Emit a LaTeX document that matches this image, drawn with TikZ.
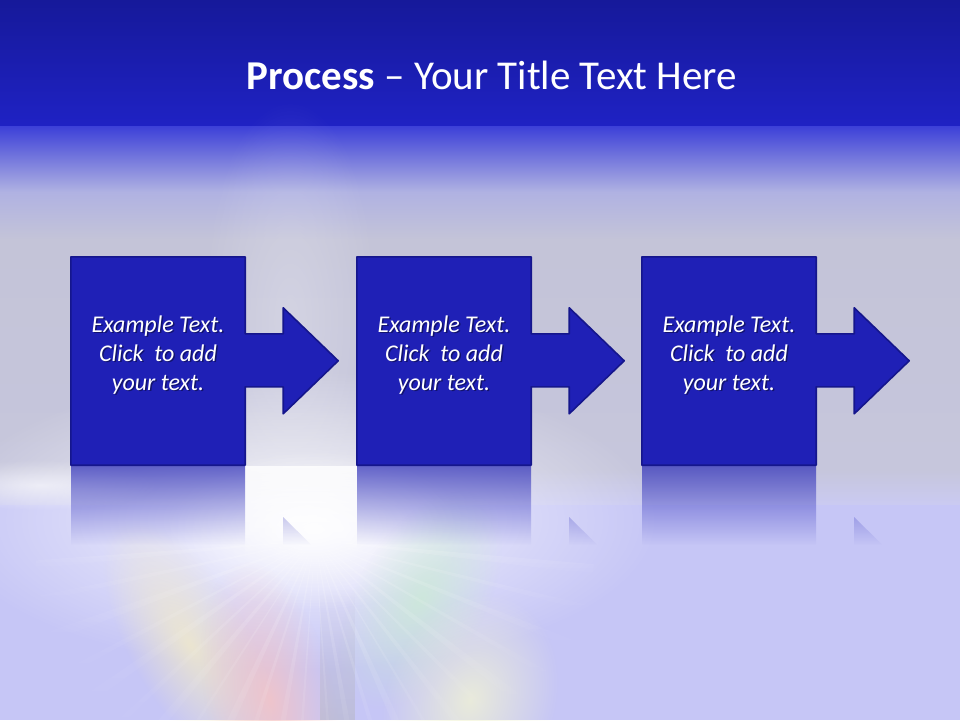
\documentclass[tikz,border=0pt]{standalone}
\usepackage{fontspec}
\setmainfont{Carlito}
\usetikzlibrary{fadings}
\definecolor{topA}{HTML}{16199A}
\definecolor{topB}{HTML}{1F22C4}
\definecolor{bandC}{HTML}{3C40D8}
\definecolor{bandD}{HTML}{B0B2E2}
\definecolor{grayl}{HTML}{C4C4D8}
\definecolor{grayb}{HTML}{C6C6DC}
\definecolor{lavA}{HTML}{CACAF2}
\definecolor{lavB}{HTML}{C6C6F6}
\definecolor{boxblue}{HTML}{1F20B6}
\definecolor{boxedge}{HTML}{15168C}
\definecolor{raypink}{HTML}{F8C4C2}
\definecolor{rayyel}{HTML}{F6EEC4}
\definecolor{raygreen}{HTML}{CAECD2}
\definecolor{raycream}{HTML}{F2F4D4}
\definecolor{raygray}{HTML}{B8B8C8}
\tikzfading[name=glow, inner color=transparent!0, outer color=transparent!100]
\tikzfading[name=fadedown, top color=transparent!35, bottom color=transparent!100]
\tikzfading[name=raydown, top color=transparent!10, bottom color=transparent!100]
\tikzfading[name=rayin, top color=transparent!100, bottom color=transparent!0]
\tikzset{
  stepshape/.style={fill=boxblue, draw=boxedge, line width=1.6pt, line join=round},
  steptext/.style={text=white, font=\fontsize{24}{29}\selectfont\itshape, align=center},
  stepshadow/.style={text=black, opacity=0.4, font=\fontsize{24}{29}\selectfont\itshape, align=center},
  stepanchor/.style={minimum width=174pt, minimum height=208pt, inner sep=0pt},
  titletext/.style={text=white, font=\fontsize{41}{46}\selectfont},
}
\begin{document}
\begin{tikzpicture}[x=1pt,y=-1pt]
\useasboundingbox (0,0) rectangle (960,720);
% ---------- background
\shade[top color=topA, bottom color=topB] (0,0) rectangle (960,126);
\shade[top color=bandC, bottom color=bandD] (0,126) rectangle (960,192);
\shade[top color=bandD, bottom color=grayl] (0,192) rectangle (960,240);
\shade[top color=grayl, bottom color=grayb] (0,240) rectangle (960,470);
\shade[top color=grayb, bottom color=lavA] (0,470) rectangle (960,505);
\fill[lavB] (0,505) rectangle (960,720);
% soft light above the centre
\fill[white, opacity=0.25, path fading=glow] (290,320) ellipse (90 and 220);
% broad white haze round the burst
\fill[white, opacity=0.85, path fading=glow] (300,520) ellipse (360 and 150);
\fill[white, opacity=0.9, path fading=glow] (315,530) ellipse (150 and 80);
\fill[white, opacity=0.9, path fading=raydown] (245,466) rectangle (357,560);
\fill[white, opacity=0.6, path fading=glow] (40,485) ellipse (120 and 25);
% coloured streaks at the bottom
\begin{scope}[transform canvas={rotate around={30:(190,645)}}]
  \fill[rayyel, opacity=0.75, path fading=glow] (190,645) ellipse (60 and 140);
\end{scope}
\begin{scope}[transform canvas={rotate around={12:(270,700)}}]
  \fill[raypink, opacity=0.8, path fading=glow] (270,700) ellipse (65 and 140);
\end{scope}
\begin{scope}[transform canvas={rotate around={-30:(420,600)}}]
  \fill[raygreen, opacity=0.75, path fading=glow] (420,600) ellipse (65 and 120);
\end{scope}
\begin{scope}[transform canvas={rotate around={-20:(470,700)}}]
  \fill[raycream, opacity=0.8, path fading=glow] (470,700) ellipse (85 and 110);
\end{scope}
\fill[raygray, opacity=0.6, path fading=rayin] (320,590) rectangle (355,720);
% rays
\foreach \a/\w in {-85/4,-78/3,-70/5,-62/3,-55/5,-47/3,-40/5,-33/2,-25/5,-18/3,-10/4,-4/2,
                   4/2,10/4,17/3,24/5,31/2,38/4,45/3,52/5,60/3,68/4,76/3,84/5} {
  \fill[white, opacity=0.22, path fading=raydown, rotate around={\a:(315,540)}]
    (315,540) -- (315-\w,820) -- (315+\w,820) -- cycle;
}
% ---------- title
\node[titletext] (title) at (492,75) {\textbf{Process} – Your Title Text Here};
% ---------- steps
\foreach \i/\x in {1/71,2/357,3/642} {
  % reflection
  \begin{scope}
    \clip (\x,466) -- (\x+174,466) -- (\x+174,545) -- (\x,545) -- cycle
          (\x+212,517) -- (\x+267,571) -- (\x+212,545) -- cycle;
    \fill[boxblue, path fading=fadedown] (\x,466) rectangle (\x+267,545);
  \end{scope}
  % shape with arrow
  \node[stepanchor] (box\i) at (\x+87,361) {};
  \draw[stepshape] (box\i.north west) -- (box\i.north east) -- ++(0,77) -- ++(38,0)
     -- ++(0,-26) -- ++(55,53) coordinate (tip\i) -- ++(-55,53) -- ++(0,-27)
     -- ++(-38,0) -- (box\i.south east) -- (box\i.south west) -- cycle;
  \node[stepshadow] (shadow\i) at (\x+88.5,356.5) {Example Text.\\Click~ to add\\your text.};
  \node[steptext] (label\i) at (\x+87,355) {Example Text.\\Click~ to add\\your text.};
}
\end{tikzpicture}
\end{document}
